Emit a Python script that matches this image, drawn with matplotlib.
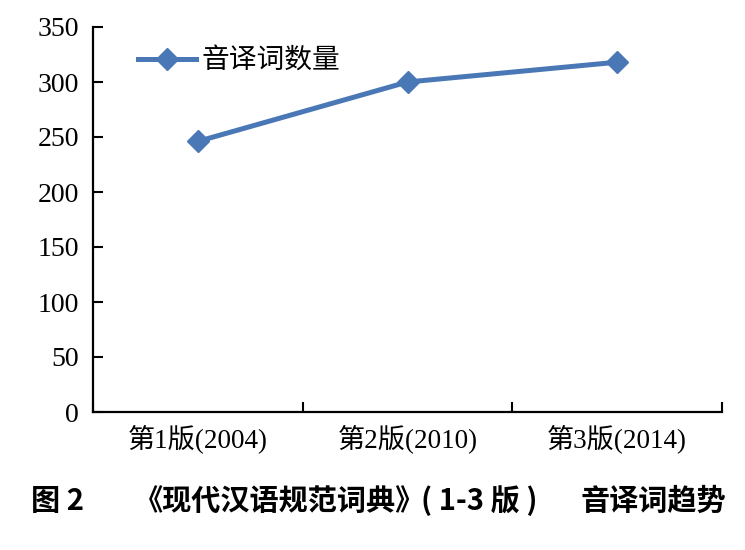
import matplotlib
matplotlib.use("Agg")
import matplotlib.pyplot as plt
import numpy as np

# data
editions = ["第1版(2004)", "第2版(2010)", "第3版(2014)"]
counts = [246, 300, 318]
series_name = "音译词数量"
y_ticks = [0, 50, 100, 150, 200, 250, 300, 350]

serif = ["Liberation Serif", "Noto Sans CJK SC"]
blue = "#4a78b6"

fig = plt.figure(figsize=(7.45, 5.5), dpi=100)
ax = fig.add_axes([93 / 745, 1 - 412 / 550, (722 - 93) / 745, (412 - 27) / 550])

x = np.arange(len(editions))
ax.plot(x, counts, color=blue, lw=3.6, marker="D", ms=11,
        markeredgecolor=blue, label=series_name)

ax.set_xlim(-0.5, len(editions) - 0.5)
ax.set_ylim(0, 350)

# category boundaries get the tick marks, labels sit in between
ax.set_xticks(np.arange(-0.5, len(editions), 1.0))
ax.set_xticklabels([])
ax.set_xticks(x, minor=True)
ax.set_xticklabels(editions, minor=True, family=serif, fontsize=19.5)
ax.tick_params(axis="x", which="major", direction="in", length=7, width=1.5)
ax.tick_params(axis="x", which="minor", length=0, pad=9)

ax.set_yticks(y_ticks)
ax.set_yticklabels([str(v) for v in y_ticks], family=serif, fontsize=20)
ax.tick_params(axis="y", direction="in", length=7, width=1.5, pad=10)

for s in ["top", "right"]:
    ax.spines[s].set_visible(False)
for s in ["left", "bottom"]:
    ax.spines[s].set_linewidth(1.6)

leg = ax.legend(loc="center left", bbox_to_anchor=(138 / 745, 1 - 62 / 550),
                bbox_transform=fig.transFigure, frameon=False,
                borderpad=0, borderaxespad=0, handlelength=2.1,
                handletextpad=0.2, prop={"family": serif, "size": 20})

# caption under the chart
cap = dict(fontsize=21, fontweight="bold", va="center",
           family=["Noto Sans CJK SC", "DejaVu Sans"])
cy = 1 - 501 / 550
fig.text(31 / 745, cy, "图 2", **cap)
fig.text(134 / 745, cy, "《现代汉语规范词典》", **cap)
fig.text(421 / 745, cy, "( 1-3 版 )", **cap)
fig.text(581 / 745, cy, "音译词趋势", **cap)

fig.savefig("out.png", dpi=100)
